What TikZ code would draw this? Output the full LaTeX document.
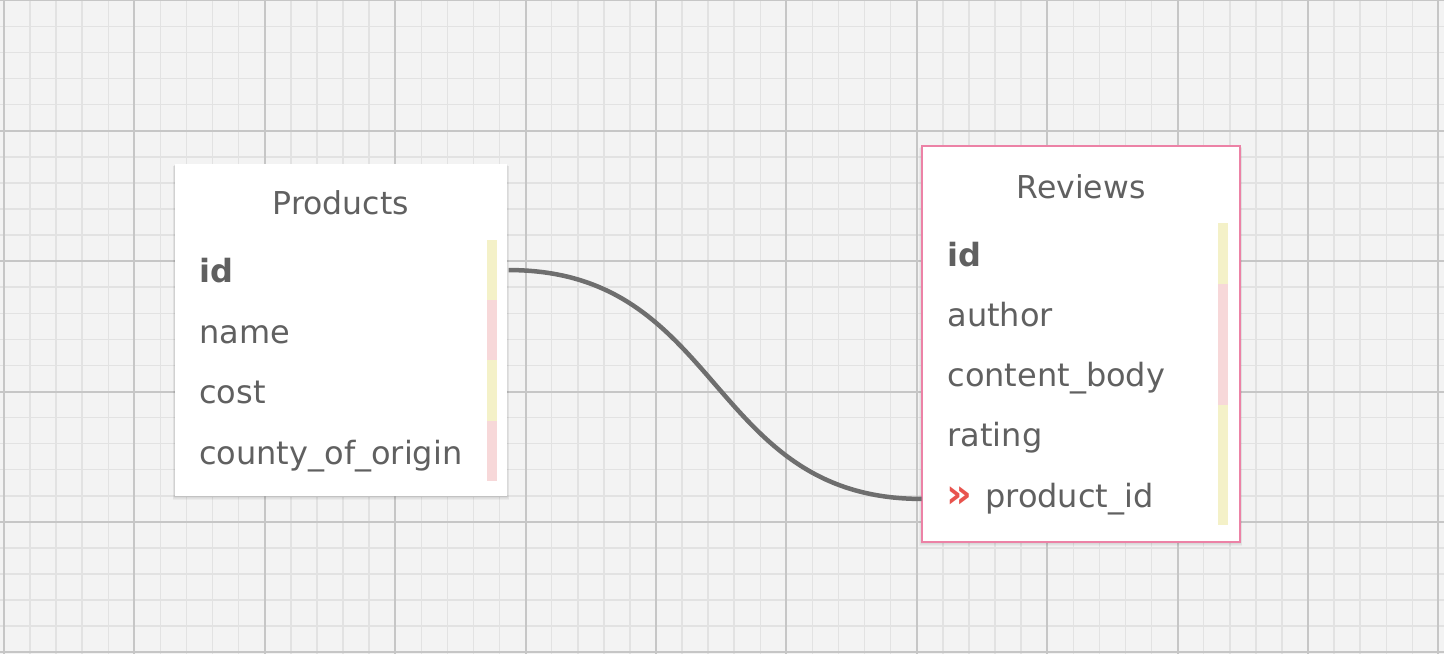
\documentclass[tikz,border=0pt]{standalone}
\usepackage{fontspec}
\setmainfont{DejaVu Sans}
\usetikzlibrary{calc}
\definecolor{bgc}{HTML}{F3F3F3}
\definecolor{minorc}{HTML}{E2E2E2}
\definecolor{majorc}{HTML}{C6C6C6}
\definecolor{txtc}{HTML}{606060}
\definecolor{barY}{HTML}{F4F1C8}
\definecolor{barP}{HTML}{F7D8D9}
\definecolor{pinkb}{HTML}{EC82A6}
\definecolor{chevc}{HTML}{E8534D}
\definecolor{linkc}{HTML}{6E6E6E}
\tikzset{
  minorline/.style={minorc, line width=1.5pt},
  majorline/.style={majorc, line width=2pt},
  tablebox/.style={fill=white, inner sep=0pt, outer sep=0pt, anchor=north west},
  shadowlayer/.style={fill=black, fill opacity=0.035},
  titletext/.style={text=txtc, inner sep=0pt, anchor=base, font=\fontsize{31.5}{37}\selectfont},
  rowtext/.style={text=txtc, inner sep=0pt, anchor=base west, font=\fontsize{32}{38}\selectfont},
  link/.style={linkc, line width=4.5pt},
}
\begin{document}
\begin{tikzpicture}[x=1pt,y=-1pt]
\useasboundingbox (0,0) rectangle (1444,654);
\fill[bgc] (0,0) rectangle (1444,654);
% grid
\foreach \i in {0,...,55} {
  \draw[minorline] ({4+26.08*\i},0) -- ({4+26.08*\i},654);
}
\foreach \j in {0,...,25} {
  \draw[minorline] (0,{0.3+26.08*\j}) -- (1444,{0.3+26.08*\j});
}
\foreach \i in {0,...,11} {
  \draw[majorline] ({4+130.4*\i},0) -- ({4+130.4*\i},654);
}
\foreach \j in {0,...,5} {
  \draw[majorline] (0,{0.3+130.4*\j}) -- (1444,{0.3+130.4*\j});
}

% shadows
\foreach \s in {1,2,3,4} {
  \fill[shadowlayer] ({175-\s*0.6},{164+\s*0.5}) rectangle ({506.7+\s*0.6},{496+\s*1});
  \fill[shadowlayer] ({921.7-\s*0.6},{145.7+\s*0.5}) rectangle ({1240+\s*0.6},{541.7+\s*1});
}

% Products table
\node[tablebox, minimum width=331.7pt, minimum height=332pt] (products) at (175,164) {};
\node[titletext] (p-title) at (341,214) {Products};
\fill[barY] (487,240) rectangle (497,300);
\fill[barP] (487,300) rectangle (497,360);
\fill[barY] (487,360) rectangle (497,421);
\fill[barP] (487,421) rectangle (497,481);
\node[rowtext] (p-id) at (199,282) {\textbf{id}};
\node[rowtext] (p-name) at (199,343) {name};
\node[rowtext] (p-cost) at (199,403) {cost};
\node[rowtext] (p-origin) at (199,464) {county\_of\_origin};

% Reviews table
\node[tablebox, draw=pinkb, line width=1.8pt, minimum width=318.3pt, minimum height=396pt] (reviews) at (921.7,145.7) {};
\node[titletext] (r-title) at (1081,198.3) {Reviews};
\fill[barY] (1218.3,223.3) rectangle (1227.7,284);
\fill[barP] (1218.3,284) rectangle (1227.7,405);
\fill[barY] (1218.3,405) rectangle (1227.7,525);
\node[rowtext] (r-id) at (947.3,266.7) {\textbf{id}};
\node[rowtext] (r-author) at (947.3,326.5) {author};
\node[rowtext] (r-body) at (947.3,386.7) {content\_body};
\node[rowtext] (r-rating) at (947.3,446.5) {rating};
\node[text=chevc, inner sep=0pt, font=\fontsize{40}{40}\selectfont\bfseries] (r-fk) at (959,497) {»};
\node[rowtext] (r-pid) at (985,507.3) {product\_id};

% connector
\draw[link] ($(products.east |- p-id.center)+(2,0)$) .. controls +(215,0) and +(-215,0) .. (reviews.west |- r-pid.center);
\end{tikzpicture}
\end{document}
